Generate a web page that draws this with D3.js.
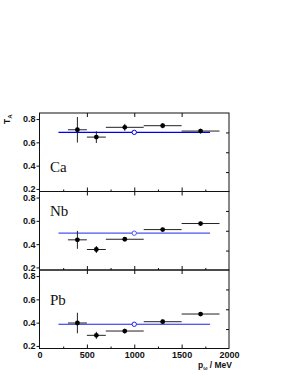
<!DOCTYPE html>
<html lang="en">
<head>
<meta charset="UTF-8">
<title>T_A vs p_omega</title>
<script src="https://d3js.org/d3.v7.min.js"></script>
<style>
    body { margin: 0; padding: 0; background: #fff; }
    .tick text { font-family: "Liberation Sans", Arial, sans-serif; font-weight: bold; font-size: 9px; fill: #111; }
    .nucl { font-family: "Liberation Serif", "Times New Roman", serif; font-size: 15px; fill: #111; }
    .title { font-family: "Liberation Sans", Arial, sans-serif; font-weight: bold; font-size: 8.5px; fill: #111; }
</style>
</head>
<body>
<svg width="291" height="376"></svg>
<script>
// bins in p_omega (MeV)
const binLo = [300, 500, 700, 1100, 1500];
const binHi = [500, 700, 1100, 1500, 1900];
const binCenter = [400, 600, 900, 1300, 1700];

const nuclei = ["Ca", "Nb", "Pb"];
const taCa = [0.708, 0.645, 0.729, 0.743, 0.697];
const errCa = [0.11, 0.05, 0.03, 0.022, 0.02];
const taNb = [0.437, 0.354, 0.442, 0.525, 0.577];
const errNb = [0.077, 0.03, 0.015, 0.015, 0.015];
const taPb = [0.397, 0.291, 0.328, 0.408, 0.474];
const errPb = [0.088, 0.03, 0.02, 0.02, 0.015];
// momentum-averaged value (open circle + line)
const avgTa = [0.686, 0.494, 0.386];
const avgRange = [200, 1800];
const avgP = 1000;

const yTicks = [0.2, 0.4, 0.6, 0.8];
const yRightTicks = [0.345, 0.515, 0.685];
const xTicks = [0, 500, 1000, 1500, 2000];
const xMinor = [250, 750, 1250, 1750];

const svg = d3.select("svg");
const left = 39.5, right = 229;
const panelTop = 113, panelH = 78.5;

const x = d3.scaleLinear().domain([0, 2000]).range([left, right]);

const series = [
    { name: nuclei[0], v: taCa, e: errCa, avg: avgTa[0], col: "#0000ee" },
    { name: nuclei[1], v: taNb, e: errNb, avg: avgTa[1], col: "#4a55f0" },
    { name: nuclei[2], v: taPb, e: errPb, avg: avgTa[2], col: "#1a22f0" }
];

series.forEach((s, i) => {
    const top = panelTop + i * panelH;
    const y = d3.scaleLinear().domain([0.178, 0.852]).range([top + panelH, top]);
    const g = svg.append("g");

    // frame
    g.append("rect")
        .attr("x", left).attr("y", top)
        .attr("width", right - left).attr("height", panelH)
        .attr("fill", "none").attr("stroke", "#111").attr("stroke-width", 1);

    // left axis, ticks outward
    g.append("g")
        .attr("transform", `translate(${left},0)`)
        .call(d3.axisLeft(y).tickValues(yTicks).tickSize(3).tickPadding(1)
            .tickFormat(d3.format(".1f")))
        .call(a => a.select(".domain").remove())
        .call(a => a.selectAll("line").attr("stroke", "#111"));

    // right axis ticks, inward
    g.append("g")
        .attr("transform", `translate(${right},0)`)
        .call(d3.axisLeft(y).tickValues(yRightTicks).tickSize(3).tickFormat(""))
        .call(a => a.select(".domain").remove())
        .call(a => a.selectAll("line").attr("x2", -3).attr("stroke", "#111"));

    // top ticks pointing down
    g.append("g")
        .attr("transform", `translate(0,${top})`)
        .call(d3.axisBottom(x).tickValues([500, 1000, 1500]).tickSize(4).tickFormat(""))
        .call(a => a.select(".domain").remove())
        .call(a => a.selectAll("line").attr("stroke", "#111"));

    // bottom ticks pointing up
    const bottom = g.append("g")
        .attr("transform", `translate(0,${top + panelH})`);
    bottom.append("g")
        .call(d3.axisTop(x).tickValues([500, 1000, 1500]).tickSize(4).tickFormat(""))
        .call(a => a.select(".domain").remove())
        .call(a => a.selectAll("line").attr("stroke", "#111"));
    bottom.append("g")
        .call(d3.axisTop(x).tickValues(xMinor).tickSize(2).tickFormat(""))
        .call(a => a.select(".domain").remove())
        .call(a => a.selectAll("line").attr("stroke", "#111"));

    if (i === 2) {
        svg.append("g")
            .attr("transform", `translate(0,${top + panelH})`)
            .call(d3.axisBottom(x).tickValues(xTicks).tickSize(0).tickPadding(3)
                .tickFormat(d3.format("d")))
            .call(a => a.select(".domain").remove());
    }

    // average line and open circle
    g.append("line")
        .attr("x1", x(avgRange[0])).attr("x2", x(avgRange[1]))
        .attr("y1", y(s.avg)).attr("y2", y(s.avg))
        .attr("stroke", s.col).attr("stroke-width", 1.2);

    // data error bars
    const pts = binCenter.map((c, k) => ({ c, lo: binLo[k], hi: binHi[k], v: s.v[k], e: s.e[k] }));
    g.selectAll(".xerr").data(pts).join("line")
        .attr("x1", d => x(d.lo)).attr("x2", d => x(d.hi))
        .attr("y1", d => y(d.v)).attr("y2", d => y(d.v))
        .attr("stroke", "#222").attr("stroke-width", 1);
    g.selectAll(".yerr").data(pts).join("line")
        .attr("x1", d => x(d.c)).attr("x2", d => x(d.c))
        .attr("y1", d => y(d.v - d.e)).attr("y2", d => y(d.v + d.e))
        .attr("stroke", "#222").attr("stroke-width", 1);
    g.selectAll(".pt").data(pts).join("circle")
        .attr("cx", d => x(d.c)).attr("cy", d => y(d.v))
        .attr("r", 2.4).attr("fill", "#000");

    g.append("circle")
        .attr("cx", x(avgP)).attr("cy", y(s.avg))
        .attr("r", 2.2).attr("fill", "#fff")
        .attr("stroke", s.col).attr("stroke-width", 1);

    // nucleus label
    const labelY = [171.5, 215.5, 305];
    g.append("text").attr("class", "nucl")
        .attr("x", 50).attr("y", labelY[i])
        .text(s.name);
});

// y title T_A
const yt = svg.append("text").attr("class", "title")
    .attr("transform", "translate(9.5,124) rotate(-90)");
yt.append("tspan").text("T");
yt.append("tspan").attr("font-size", "6px").attr("dy", 2.5).text("A");

// x title p_omega / MeV
const xt = svg.append("text").attr("class", "title")
    .attr("text-anchor", "end")
    .attr("x", 232).attr("y", 368);
xt.append("tspan").text("p");
xt.append("tspan").attr("font-size", "5px").attr("dy", 1.5).text("ω");
xt.append("tspan").attr("dy", -1.5).text(" / MeV");
</script>
</body>
</html>
